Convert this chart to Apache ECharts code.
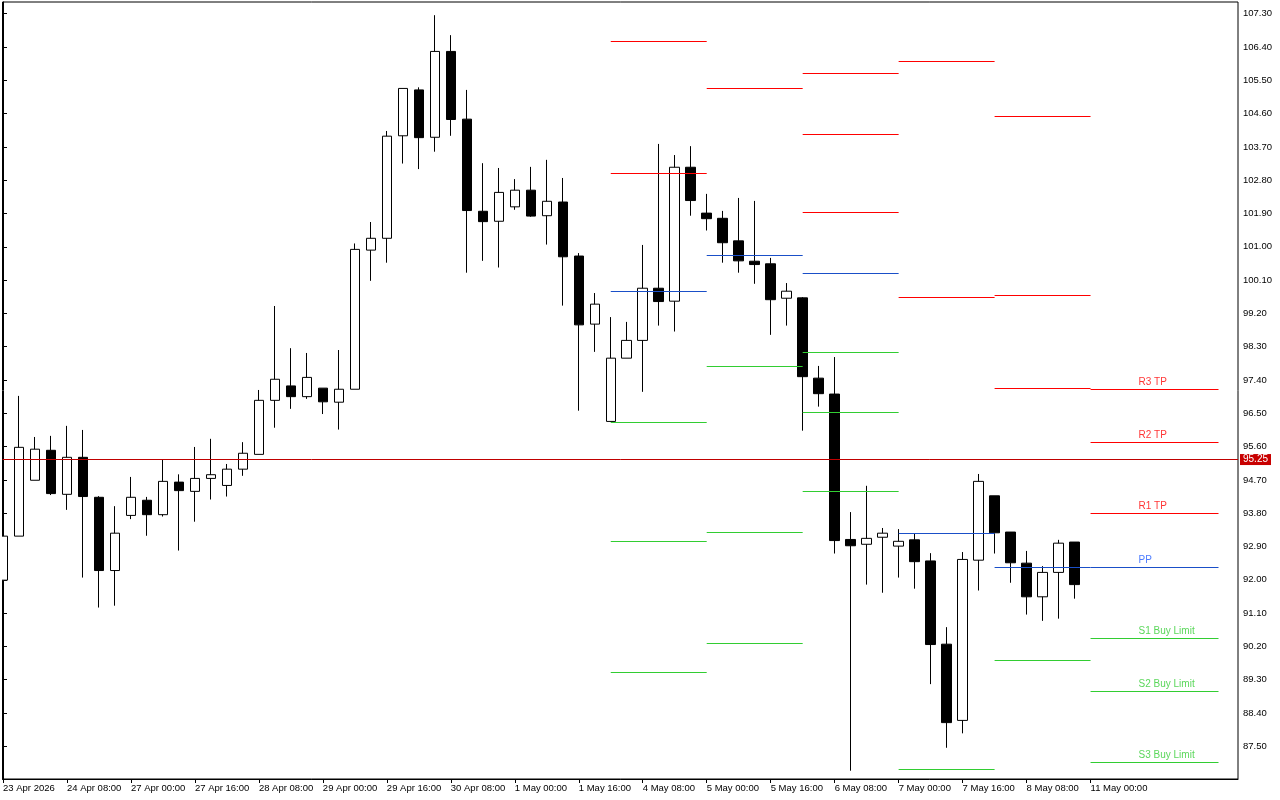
<!DOCTYPE html>
<html>
<head>
<meta charset="utf-8">
<script src="https://cdn.jsdelivr.net/npm/echarts@6/dist/echarts.min.js"></script>
<style>
html,body{margin:0;padding:0;background:#fff;}
#chart{width:1280px;height:800px;}
</style>
</head>
<body>
<div id="chart"></div>
<script>
// ---- data ----
const barIndex = Array.from({length: 68}, (_, i) => i);
const opens = [91.99,93.18,94.69,95.50,94.31,95.31,94.23,92.25,93.74,94.15,93.76,94.64,94.39,94.74,94.55,94.99,95.39,96.85,97.24,96.95,97.18,96.80,97.15,100.91,101.23,104.00,105.24,103.96,106.28,104.45,101.96,101.69,102.08,102.53,101.84,102.21,100.75,98.91,96.28,97.99,98.47,99.88,99.53,103.15,101.91,101.77,101.16,100.61,100.54,99.61,99.62,97.45,97.02,93.09,92.96,93.15,92.91,93.08,92.51,90.26,88.20,92.53,94.27,93.29,92.45,91.54,92.20,93.02];
const closes = [93.18,95.58,95.53,94.33,95.31,94.25,92.25,93.26,94.23,93.76,94.66,94.41,94.74,94.84,94.99,95.42,96.85,97.42,96.95,97.47,96.81,97.15,100.93,101.23,103.99,105.28,103.95,106.28,104.44,101.98,101.68,102.47,102.53,101.83,102.23,100.73,98.89,99.45,97.99,98.47,99.88,99.52,103.15,102.25,101.76,101.11,100.62,100.52,99.57,99.80,97.49,97.03,93.06,92.92,93.12,93.26,93.04,92.49,90.25,88.14,92.55,94.66,93.27,92.46,91.54,92.20,92.99,91.87];
const lows = [91.99,93.18,94.69,94.29,93.89,92.06,91.25,91.30,93.64,93.19,93.71,92.79,93.57,94.17,94.25,94.81,95.39,96.11,96.62,96.89,96.48,96.06,97.15,100.08,100.57,103.25,103.10,103.57,104.00,100.30,100.62,100.44,102.00,101.81,101.06,99.41,96.57,98.16,96.28,97.99,97.08,98.87,98.71,101.84,101.44,100.57,100.30,100.00,98.62,98.87,96.03,96.68,92.71,86.84,91.87,91.65,92.06,91.76,89.18,87.46,87.85,91.71,92.71,91.92,91.06,90.89,90.95,91.49];
const highs = [93.18,96.97,95.86,95.89,96.16,96.05,94.26,93.99,94.78,94.24,95.26,94.85,95.59,95.81,95.13,95.72,97.13,99.40,98.26,98.13,97.18,98.21,101.09,101.67,104.13,105.28,105.31,107.26,106.72,105.24,103.26,103.13,102.83,103.16,103.35,102.86,100.83,99.75,99.10,98.97,101.05,103.78,103.48,103.72,102.43,101.97,102.32,102.24,100.70,100.02,99.64,97.78,98.02,93.83,94.54,93.40,93.37,93.26,92.72,90.72,92.75,94.86,94.27,93.29,92.78,92.37,93.08,93.02];

const labelTicks = [0,4,8,12,16,20,24,28,32,36,40,44,48,52,56,60,64,68];
const timeLabels = ['23 Apr 2026','24 Apr 08:00','27 Apr 00:00','27 Apr 16:00','28 Apr 08:00','29 Apr 00:00','29 Apr 16:00','30 Apr 08:00','1 May 00:00','1 May 16:00','4 May 08:00','5 May 00:00','5 May 16:00','6 May 08:00','7 May 00:00','7 May 16:00','8 May 08:00','11 May 00:00'];
const priceTicks = [87.5,88.4,89.3,90.2,91.1,92.0,92.9,93.8,94.7,95.6,96.5,97.4,98.3,99.2,100.1,101.0,101.9,102.8,103.7,104.6,105.5,106.4,107.3];

const currentPrice = 95.25;

const pivotStart = [38,44,50,56,62,68];
const pivotEnd   = [44,50,56,62,68,76];
const R3 = [null,  null,   105.69, null,   104.53, 97.16];
const R2 = [106.55, null,  104.04, 106.01, 99.69,  95.72];
const R1 = [102.99, 105.28, 101.93, 99.64, 97.18,  93.80];
const PP = [99.80, 100.77, 100.28, 93.26,  92.34,  92.34];
const S1 = [96.26, 97.77,  98.15,  86.89,  89.82,  90.43];
const S2 = [93.04, 93.28,  96.53,  null,   null,   88.99];
const S3 = [89.50, 90.28,  94.39,  null,   null,   87.07];
const levelNames = ['R3 TP','R2 TP','R1 TP','PP','S1 Buy Limit','S2 Buy Limit','S3 Buy Limit'];
const labelBar = 71;

// ---- build ----
const RED = '#ff0000', BLUE = '#1a4fc8', GREEN = '#32cd32';
const levels = [[R3,RED],[R2,RED],[R1,RED],[PP,BLUE],[S1,GREEN],[S2,GREEN],[S3,GREEN]];
const candleData = barIndex.map(i => [i, opens[i], closes[i], lows[i], highs[i]]);

const markData = [];
levels.forEach(([arr, col]) => {
  arr.forEach((v, d) => {
    if (v == null) return;
    markData.push([
      {coord: [pivotStart[d], v], lineStyle: {color: col, width: 1, type: 'solid'}},
      {coord: [pivotEnd[d], v]}
    ]);
  });
});
markData.push({
  yAxis: currentPrice,
  lineStyle: {color: '#c00000', width: 1, type: 'solid'},
  label: {
    show: true, position: 'end', distance: 2,
    formatter: currentPrice.toFixed(2),
    color: '#ffffff', backgroundColor: '#c80000',
    fontFamily: 'Liberation Sans', fontSize: 10, padding: [1, 3, 0, 3]
  }
});

const lastIdx = pivotStart.length - 1;
const labelColors = [RED,RED,RED,'#1e5aff',GREEN,GREEN,GREEN];
const labelData = levels.map(([arr], j) => ({
  value: [labelBar, arr[lastIdx]],
  label: {color: labelColors[j]}
}));

const FONT = 'Liberation Sans';
const shift = 0.5 / 16;
const chart = echarts.init(document.getElementById('chart'), null, {renderer: 'canvas'});
chart.setOption({
  animation: false,
  backgroundColor: '#ffffff',
  grid: {left: 2, right: 42, top: 2, bottom: 21, show: true, borderColor: '#000', borderWidth: 1, containLabel: false},
  xAxis: {
    type: 'value', min: -shift, max: 77.25 - shift,
    splitLine: {show: false},
    axisLine: {show: true, lineStyle: {color: '#000', width: 1}},
    axisTick: {show: true, length: 4, customValues: labelTicks, lineStyle: {color: '#000'}},
    axisLabel: {
      customValues: labelTicks, align: 'left', margin: 4,
      color: '#000', fontFamily: FONT, fontSize: 9.5,
      formatter: v => { const i = labelTicks.indexOf(Math.round(v)); return i >= 0 ? timeLabels[i] : ''; }
    }
  },
  yAxis: {
    type: 'value', position: 'right', min: 86.616, max: 107.616, scale: true,
    splitLine: {show: false},
    axisLine: {show: true, lineStyle: {color: '#000', width: 1}},
    axisTick: {show: true, length: 4, customValues: priceTicks, lineStyle: {color: '#000'}},
    axisLabel: {
      customValues: priceTicks, margin: 5,
      color: '#000', fontFamily: FONT, fontSize: 9.5,
      formatter: v => Number(v).toFixed(2)
    }
  },
  graphic: [
    {type: 'rect', left: 0, top: 0, shape: {x: 0, y: 0, width: 2, height: 800}, style: {fill: '#ffffff'}, z: 100, silent: true}
  ],
  series: [
    {
      type: 'candlestick',
      data: candleData,
      encode: {x: 0, y: [1, 2, 3, 4]},
      barWidth: 10,
      clip: true,
      itemStyle: {color: '#ffffff', color0: '#000000', borderColor: '#000000', borderColor0: '#000000', borderWidth: 1},
      markLine: {
        silent: true, symbol: ['none', 'none'], animation: false,
        label: {show: false},
        emphasis: {disabled: true},
        data: markData,
        z: 5
      }
    },
    {
      type: 'scatter',
      symbolSize: 0,
      silent: true,
      data: labelData,
      z: 6,
      label: {
        show: true, position: 'right', distance: 0, offset: [0, -7],
        fontFamily: FONT, fontSize: 10,
        formatter: p => levelNames[p.dataIndex]
      }
    }
  ]
});
</script>
</body>
</html>
